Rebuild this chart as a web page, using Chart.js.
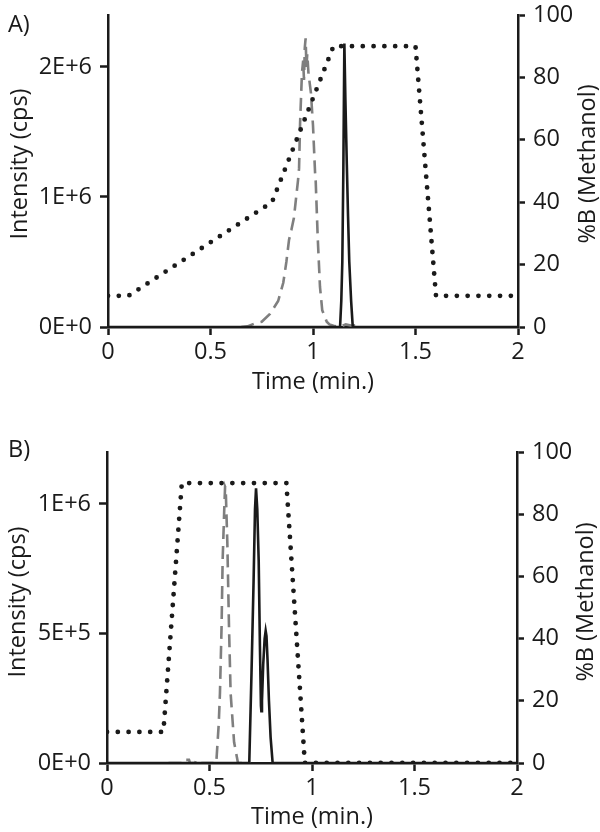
<!DOCTYPE html>
<html>
<head>
<meta charset="utf-8">
<script src="https://cdn.jsdelivr.net/npm/chart.js@4.4.1/dist/chart.umd.min.js"></script>
<style>
    html, body { margin: 0; padding: 0; background: #fff; }
    body { width: 600px; height: 832px; position: relative; overflow: hidden; }
    .panel { position: absolute; left: 0; width: 600px; }
</style>
</head>
<body>
<div class="panel" style="top:0;height:400px"><canvas id="chartA" width="600" height="400"></canvas></div>
<div class="panel" style="top:420px;height:412px"><canvas id="chartB" width="600" height="412"></canvas></div>
<script>
// Panel A - gradient (%B) and the two traces
var gradATime = [0, 0.1, 0.8, 1.1, 1.5, 1.6, 2];
var gradAPct  = [10, 10, 40, 90, 90, 10, 10];

var dashATime = [0.65, 0.68, 0.72, 0.75, 0.79, 0.83, 0.855, 0.87, 0.883, 0.895, 0.907, 0.918, 0.927, 0.932, 0.937, 0.946, 0.952, 0.956, 0.96, 0.964, 0.968, 0.972, 0.978, 0.99, 1.0, 1.01, 1.013, 1.023, 1.034, 1.045, 1.067, 1.08, 1.1, 1.13, 1.16, 1.19, 1.22, 1.23];
var dashAInt  = [0, 5e3, 3e4, 4e4, 1e5, 2e5, 3.4e5, 5e5, 6.7e5, 7.5e5, 8.4e5, 1.0e6, 1.13e6, 1.22e6, 1.57e6, 1.95e6, 2.05e6, 1.9e6, 2.15e6, 2.22e6, 2.0e6, 2.1e6, 1.95e6, 1.8e6, 1.55e6, 1.19e6, 1.13e6, 6.9e5, 3.1e5, 1.3e5, 4e4, 2e4, 1e4, 0, 2e4, 1e4, 1.5e4, 0];

var solidATime = [0, 1.12, 1.132, 1.138, 1.143, 1.148, 1.153, 1.158, 1.165, 1.171, 1.177, 1.186, 1.194, 1.21, 2];
var solidAInt  = [0, 0, 0, 2e5, 5e5, 1.2e6, 2.18e6, 1.75e6, 1.25e6, 8.5e5, 5e5, 2e5, 0, 0, 0];

var intTicksA = [0, 1e6, 2e6];

// Panel B
var gradBTime = [0, 0.275, 0.365, 0.875, 0.965, 2];
var gradBPct  = [10, 10, 90, 90, 0, 0];

var dashBTime = [0.3, 0.365, 0.37, 0.4, 0.405, 0.43, 0.435, 0.455, 0.46, 0.52, 0.533, 0.545, 0.551, 0.559, 0.564, 0.572, 0.576, 0.579, 0.587, 0.595, 0.603, 0.62, 0.639, 0.7];
var dashBInt  = [0, 0, 1.2e4, 1.2e4, 0, 0, 1e4, 1e4, 0, 0, 0, 1.5e5, 2.7e5, 5.3e5, 7.8e5, 9.8e5, 1.066e6, 1.06e6, 8.5e5, 5.3e5, 2.7e5, 8e4, 0, 0];

var solidBTime = [0, 0.694, 0.705, 0.715, 0.722, 0.727, 0.733, 0.74, 0.746, 0.751, 0.753, 0.756, 0.762, 0.769, 0.774, 0.778, 0.783, 0.79, 0.798, 0.808, 2];
var solidBInt  = [0, 0, 3.5e5, 7e5, 9.8e5, 1.06e6, 9.8e5, 7.8e5, 4.5e5, 2.2e5, 2e5, 2.4e5, 3.8e5, 4.8e5, 5.1e5, 4.9e5, 4e5, 2.4e5, 1e5, 0, 0];

var intTicksB = [0, 5e5, 1e6];

// shared axes
var timeTicks = [0, 0.5, 1, 1.5, 2];
var pctTicks = [0, 20, 40, 60, 80, 100];

var ink = '#1a1a1a';
var grey = '#7f7f7f';
var fontSize = 23.5;

Chart.defaults.font.family = '"Open Sans"';
Chart.defaults.font.size = fontSize;
Chart.defaults.color = ink;

function pts(xs, ys) {
    return xs.map(function(x, i) { return {x: x, y: ys[i]}; });
}

function fixedTicks(values) {
    return function(s) { s.ticks = values.map(function(v) { return {value: v}; }); };
}

// draws panel letter and both y titles (the right one reads bottom-to-top)
var panelText = {
    id: 'panelText',
    afterDraw: function(chart, args, o) {
        var ctx = chart.ctx;
        ctx.save();
        ctx.fillStyle = ink;
        ctx.font = fontSize + 'px "Open Sans"';
        ctx.textAlign = 'left';
        ctx.textBaseline = 'alphabetic';
        ctx.fillText(o.label, 8, o.labelY);
        ctx.textAlign = 'center';
        ctx.textBaseline = 'middle';
        ctx.save();
        ctx.translate(o.leftX, o.midY);
        ctx.rotate(-Math.PI / 2);
        ctx.fillText('Intensity (cps)', 0, 0);
        ctx.restore();
        ctx.translate(o.rightX, o.midY);
        ctx.rotate(-Math.PI / 2);
        ctx.fillText('%B (Methanol)', 0, 0);
        ctx.restore();
    }
};

function makeConfig(p) {
    var axisLine = { display: true, color: ink, width: 2.5 };
    var tickGrid = { drawOnChartArea: false, drawTicks: true, tickLength: 8, tickWidth: 2.5, tickColor: ink };
    return {
        type: 'line',
        data: {
            datasets: [{
                label: '%B',
                data: pts(p.gradTime, p.gradPct),
                yAxisID: 'y2',
                borderColor: ink,
                borderWidth: 4.8,
                borderDash: [0, 10.8],
                borderCapStyle: 'round',
                pointRadius: 0,
                fill: false
            }, {
                label: 'solid',
                data: pts(p.solidTime, p.solidInt),
                yAxisID: 'y',
                borderColor: ink,
                borderWidth: 2.6,
                pointRadius: 0,
                fill: false
            }, {
                label: 'dashed',
                data: pts(p.dashTime, p.dashInt),
                yAxisID: 'y',
                borderColor: grey,
                borderWidth: 2.6,
                borderDash: [13, 7],
                pointRadius: 0,
                fill: false
            }]
        },
        options: {
            responsive: false,
            animation: false,
            layout: { padding: { top: p.top, left: 0, right: 0, bottom: 0 } },
            plugins: {
                legend: { display: false },
                tooltip: { enabled: false },
                panelText: p.text
            },
            scales: {
                x: {
                    type: 'linear',
                    min: 0,
                    max: 2,
                    afterBuildTicks: fixedTicks(timeTicks),
                    grid: tickGrid,
                    border: axisLine,
                    ticks: { padding: 3, maxRotation: 0, autoSkip: false, callback: function(v) { return String(v); } },
                    title: { display: true, text: 'Time (min.)', padding: { top: 0, bottom: p.xTitlePad } },
                    afterFit: function(s) { s.height = p.xHeight; }
                },
                y: {
                    position: 'left',
                    min: 0,
                    max: p.intMax,
                    afterBuildTicks: fixedTicks(p.intTicks),
                    ticks: {
                        padding: 8,
                        autoSkip: false,
                        callback: function(v) { return v.toExponential(0).toUpperCase(); }
                    },
                    grid: tickGrid,
                    border: axisLine,
                    afterFit: function(s) { s.width = p.leftW; s.paddingTop = 0; s.paddingBottom = 0; }
                },
                y2: {
                    position: 'right',
                    min: 0,
                    max: 100,
                    afterBuildTicks: fixedTicks(pctTicks),
                    ticks: { padding: 8, autoSkip: false },
                    grid: { drawOnChartArea: false, drawTicks: true, tickLength: 7, tickWidth: 2.5, tickColor: ink },
                    border: axisLine,
                    afterFit: function(s) { s.width = p.rightW; s.paddingTop = 0; s.paddingBottom = 0; }
                }
            }
        },
        plugins: [panelText]
    };
}

window.onload = function() {
    new Chart(document.getElementById('chartA').getContext('2d'), makeConfig({
        gradTime: gradATime, gradPct: gradAPct,
        solidTime: solidATime, solidInt: solidAInt,
        dashTime: dashATime, dashInt: dashAInt,
        intMax: 2.4e6, intTicks: intTicksA,
        top: 15, xHeight: 73, xTitlePad: 4, leftW: 108, rightW: 82,
        text: { label: 'A)', labelY: 32, leftX: 20, rightX: 588, midY: 164 }
    }));
    new Chart(document.getElementById('chartB').getContext('2d'), makeConfig({
        gradTime: gradBTime, gradPct: gradBPct,
        solidTime: solidBTime, solidInt: solidBInt,
        dashTime: dashBTime, dashInt: dashBInt,
        intMax: 1.2e6, intTicks: intTicksB,
        top: 32, xHeight: 69, xTitlePad: 1, leftW: 107, rightW: 83,
        text: { label: 'B)', labelY: 37, leftX: 18, rightX: 586, midY: 182 }
    }));
};
</script>
</body>
</html>
